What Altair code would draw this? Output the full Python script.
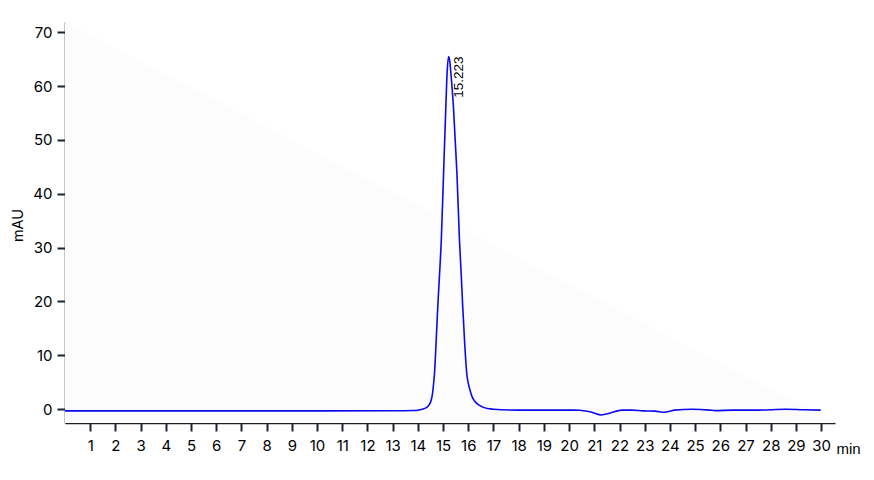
import altair as alt
import pandas as pd

# Chromatogram trace (time in min, signal in mAU)
time = [0, 5, 10, 13.0, 13.8, 14.0, 14.2, 14.35, 14.45, 14.52, 14.58, 14.62, 14.66,
        14.72, 14.79, 14.86, 14.93, 15.02, 15.11, 15.16, 15.22, 15.27, 15.31, 15.41,
        15.48, 15.55, 15.65, 15.72, 15.78, 15.86, 15.94, 16.0, 16.07, 16.15, 16.25,
        16.4, 16.55, 16.75, 17.0, 17.3, 18.0, 19.5, 20.4, 20.9, 21.28, 21.6, 21.96,
        22.1, 22.5, 22.93, 23.4, 23.79, 24.0, 24.18, 24.9, 25.57, 25.8, 26.5, 27.5,
        28.6, 29.3, 29.98]
signal = [-0.35, -0.35, -0.35, -0.32, -0.28, -0.22, 0.0, 0.3, 0.8, 1.5, 2.8, 4.5, 6.6,
          12.0, 19.0, 25.0, 31.4, 43.8, 56.2, 62.4, 65.5, 64.5, 62.4, 56.2,
          50.0, 43.8, 31.4, 25.0, 19.0, 12.0, 6.6, 4.8, 3.5, 2.3, 1.5,
          0.8, 0.4, 0.1, -0.05, -0.15, -0.2, -0.2, -0.22, -0.6, -1.1, -0.8, -0.3,
          -0.2, -0.2, -0.35, -0.4, -0.6, -0.4, -0.2, -0.05, -0.2, -0.3, -0.2, -0.2,
          -0.05, -0.15, -0.2]

peak_time = [15.223]
peak_height = [65.5]
peak_label = ["15.223"]

x_ticks = list(range(1, 31))
y_ticks = list(range(0, 71, 10))

X_DOMAIN = [0, 30.55]
Y_DOMAIN = [-2.6, 71.9]

trace = pd.DataFrame({"time": time, "signal": signal})
peaks = pd.DataFrame({"time": peak_time, "signal": peak_height, "label": peak_label})
shade = pd.DataFrame({"time": X_DOMAIN, "signal": [Y_DOMAIN[1], Y_DOMAIN[0]],
                      "base": [Y_DOMAIN[0], Y_DOMAIN[0]]})

xscale = alt.Scale(domain=X_DOMAIN, nice=False, zero=False)
yscale = alt.Scale(domain=Y_DOMAIN, nice=False, zero=False)

AX_COLOR = "#1b2533"
LABEL_FONT = "Inter"

xaxis = alt.Axis(values=x_ticks, title="min", grid=False, domainColor="#222222",
                 domainWidth=1.5, tickColor=AX_COLOR, tickWidth=2, tickSize=8,
                 labelFont=LABEL_FONT, labelFontSize=15, labelColor="#000000",
                 labelPadding=7, labelFlush=False, labelOverlap=False,
                 titleFont="Liberation Sans", titleFontSize=15, titleFontWeight="normal",
                 titleColor="#000000", titleX=771, titleY=25, titleAlign="left",
                 titleBaseline="middle", titleAnchor="start")
yaxis = alt.Axis(values=y_ticks, title="mAU", grid=False, domainColor="#222222",
                 domainWidth=1.5, tickColor=AX_COLOR, tickWidth=2, tickSize=8,
                 labelFont=LABEL_FONT, labelFontSize=15, labelColor="#000000",
                 labelPadding=5, labelFlush=False, labelOverlap=False,
                 titleFont=LABEL_FONT, titleFontSize=14.5, titleFontWeight="normal",
                 titleColor="#000000", titleX=-47, titleY=203, titleAngle=-90,
                 titleAlign="center", titleBaseline="middle")

X = alt.X("time:Q", scale=xscale, axis=xaxis)
Y = alt.Y("signal:Q", scale=yscale, axis=yaxis)

bg = alt.Chart(shade).mark_area(color="#fcfcfd").encode(x=X, y=Y, y2="base:Q")

line = alt.Chart(trace).mark_line(color="#0a0af0", strokeWidth=1.6,
                                  interpolate="monotone").encode(x=X, y=Y)

label = alt.Chart(peaks).mark_text(angle=270, align="right", baseline="top", dy=3,
                                   font="Liberation Sans", fontSize=13.5,
                                   color="#000000").encode(x=X, y=Y, text="label:N")

chart = alt.layer(bg, line, label).properties(
    width=770, height=401,
    background="white",
    autosize=alt.AutoSizeParams(type="none"),
    padding={"left": 57, "top": 14, "right": 30, "bottom": 40},
).configure_view(strokeWidth=0)

chart.save("out.html", embed_options={"renderer": "svg", "actions": False})
